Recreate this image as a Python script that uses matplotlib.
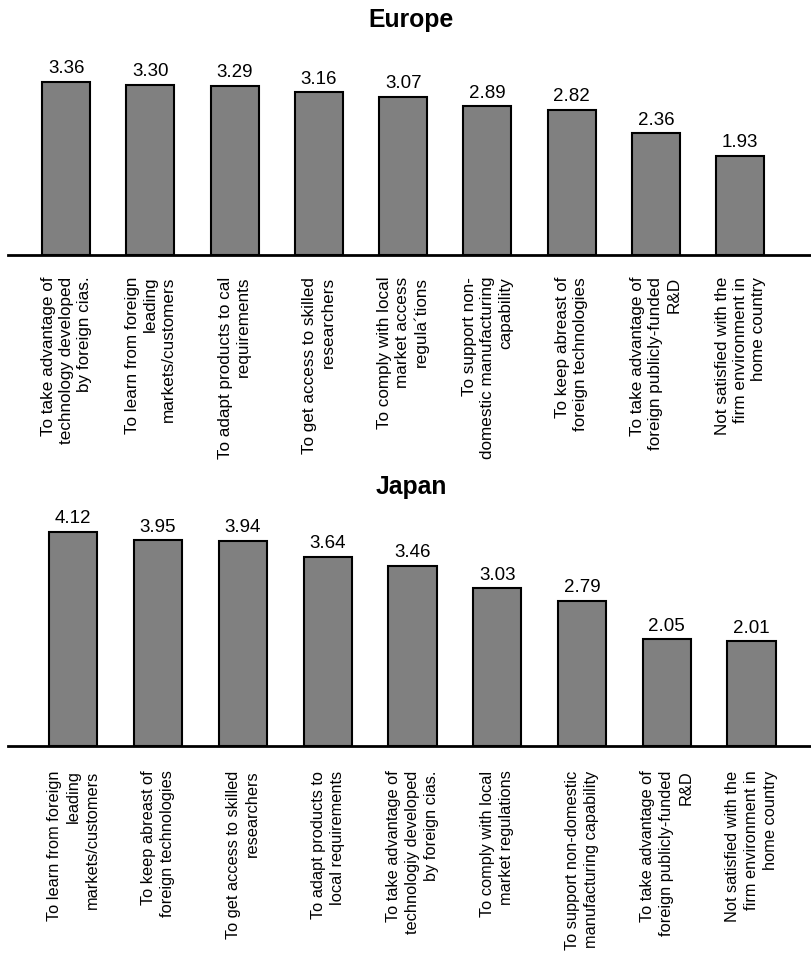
import matplotlib
matplotlib.use("Agg")
import matplotlib.pyplot as plt
import numpy as np

plt.rcParams['font.family'] = ['Liberation Sans', 'DejaVu Sans']

europe_labels = [
    "To take advantage of\ntechnology developed\nby foreign cias.",
    "To learn from foreign\nleading\nmarkets/customers",
    "To adapt products to cal\nrequirements",
    "To get access to skilled\nresearchers",
    "To comply with local\nmarket access\nregula\u00b4tions",
    "To support non-\ndomestic manufacturing\ncapability",
    "To keep abreast of\nforeign technologies",
    "To take advantage of\nforeign publicly-funded\nR&D",
    "Not satisfied with the\nfirm environment in\nhome country",
]
europe_values = [3.36, 3.30, 3.29, 3.16, 3.07, 2.89, 2.82, 2.36, 1.93]

japan_labels = [
    "To learn from foreign\nleading\nmarkets/customers",
    "To keep abreast of\nforeign technologies",
    "To get access to skilled\nresearchers",
    "To adapt products to\nlocal requirements",
    "To take advantage of\ntechnologiy developed\nby foreign cias.",
    "To comply with local\nmarket regulations",
    "To support non-domestic\nmanufacturing capability",
    "To take advantage of\nforeign publicly-funded\nR&D",
    "Not satisfied with the\nfirm environment in\nhome country",
]
japan_values = [4.12, 3.95, 3.94, 3.64, 3.46, 3.03, 2.79, 2.05, 2.01]

W, H = 811, 962
fig = plt.figure(figsize=(W / 100, H / 100), dpi=100)


def panel(rect_px, title, labels, values, ytop, xlim, lab_size, lab_spacing, pad):
    left, top, right, bottom = rect_px
    ax = fig.add_axes([left / W, 1 - bottom / H, (right - left) / W, (bottom - top) / H])
    x = np.arange(len(values))
    bars = ax.bar(x, values, width=0.57, color="#808080", edgecolor="black", linewidth=1.5)
    for b, v in zip(bars, values):
        ax.annotate(f"{v:.2f}", (b.get_x() + b.get_width() / 2, v),
                    xytext=(0, 4), textcoords="offset points",
                    ha="center", va="bottom", fontsize=13.5)
    ax.set_xlim(*xlim)
    ax.set_ylim(0, ytop)
    ax.set_xticks(x)
    ax.set_xticklabels(labels, rotation=90, ha="center", va="top",
                       multialignment="right", fontsize=lab_size,
                       linespacing=lab_spacing)
    ax.tick_params(axis="x", length=0, pad=pad)
    ax.set_yticks([])
    for s in ["left", "right", "top"]:
        ax.spines[s].set_visible(False)
    ax.spines["bottom"].set_linewidth(2)
    fig.text(0.507, 1 - (top - 30) / H, title, ha="center", va="center",
             fontsize=17.8, fontweight="bold")
    return ax


panel((8, 50, 811, 256), "Europe", europe_labels, europe_values, 4.0,
      (-0.69, 8.84), 12.3, 1.25, 15)
panel((8, 517, 811, 747), "Japan", japan_labels, japan_values, 4.42,
      (-0.77, 8.7), 11.8, 1.35, 17)

fig.savefig("out.png", dpi=100)
